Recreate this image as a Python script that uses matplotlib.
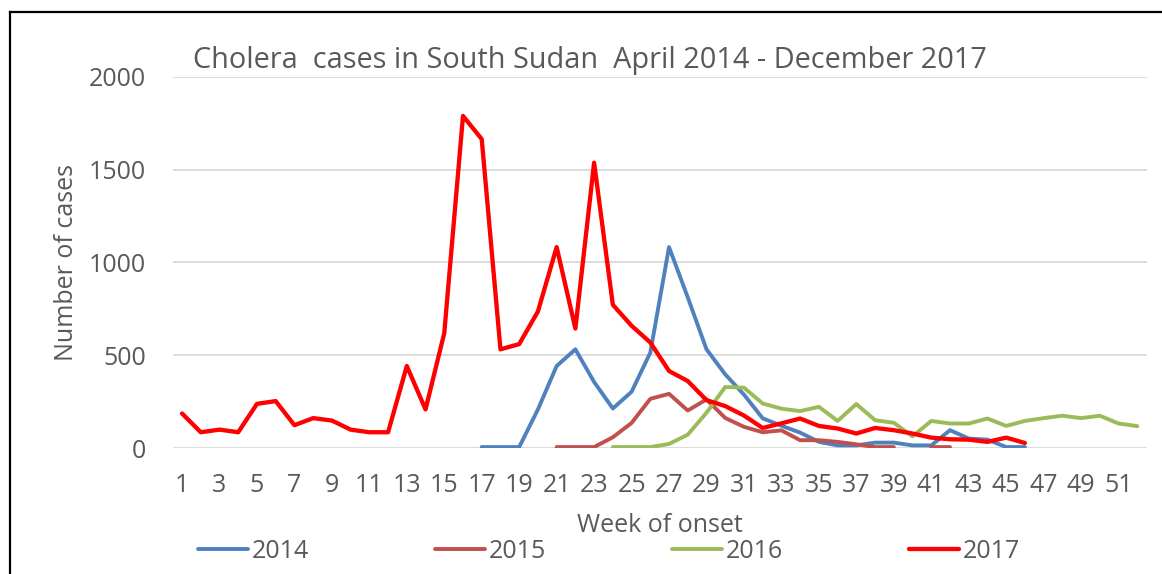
import numpy as np
import matplotlib
matplotlib.use("Agg")
import matplotlib.pyplot as plt
from matplotlib.lines import Line2D

weeks = np.arange(1, 53)
nan = np.nan

# weekly cases, week 1..52 (nan = no data)
cases_2014 = [nan] * 16 + [5, 5, 5, 208, 442, 532, 356, 213, 303, 514, 1083, 812, 532, 397,
                           288, 160, 120, 83, 33, 14, 14, 29, 29, 14, 14, 96, 51, 45, 5, 5] + [nan] * 6
cases_2015 = [nan] * 20 + [5, 5, 5, 58, 135, 265, 292, 202, 262, 162, 114, 85, 95, 42, 42,
                           33, 20, 5, 5, nan, 5, 5] + [nan] * 10
cases_2016 = [nan] * 23 + [5, 5, 5, 22, 72, 190, 329, 325, 240, 212, 199, 222, 146, 237, 150,
                           136, 63, 146, 132, 132, 159, 119, 146, 161, 174, 161, 174, 132, 118]
cases_2017 = [186, 85, 99, 85, 238, 253, 123, 161, 148, 99, 85, 85, 442, 208, 619, 1790, 1665,
              532, 560, 736, 1083, 644, 1538, 772, 659, 569, 415, 361, 258, 226, 175, 108, 133,
              159, 119, 105, 78, 108, 96, 78, 56, 47, 45, 33, 56, 27] + [nan] * 6

series = [("2014", cases_2014, "#4F81BD", 2.8),
          ("2015", cases_2015, "#C0504D", 2.8),
          ("2016", cases_2016, "#9BBB59", 2.8),
          ("2017", cases_2017, "#FF0000", 3.1)]

txt = "#595959"
plt.rcParams['font.family'] = ['Open Sans', 'DejaVu Sans']

fig = plt.figure(figsize=(11.62, 5.74), dpi=100)
ax = fig.add_axes([0.1486, 0.2195, 0.8382, 0.6464])

for name, vals, col, lw in series:
    ax.plot(weeks, np.array(vals, dtype=float), color=col, linewidth=lw,
            label=name, solid_capstyle='round', solid_joinstyle='round')

ax.set_xlim(0.5, 52.5)
ax.set_ylim(0, 2000)
ax.set_yticks(range(0, 2001, 500))
ax.set_xticks(range(1, 53, 2))
ax.grid(axis='y', color='#d9d9d9', linewidth=1.3)
ax.set_axisbelow(True)
for s in ax.spines.values():
    s.set_visible(False)
ax.tick_params(length=0, labelsize=18, labelcolor=txt)
ax.tick_params(axis='y', pad=19)
ax.tick_params(axis='x', pad=18)

ax.set_xlabel("Week of onset", fontsize=18, color=txt, labelpad=11)
ax.set_ylabel("Number of cases", fontsize=18, color=txt, labelpad=7)

fig.text(193 / 1162, 1 - 68 / 574, "Cholera  cases in South Sudan  April 2014 - December 2017",
         fontsize=20.8, color=txt, va='baseline', ha='left')

leg = fig.legend(loc='center', bbox_to_anchor=(0.5245, 0.039), ncol=4, frameon=False,
                 fontsize=18, handlelength=2.0, handletextpad=0.15, columnspacing=5.04,
                 borderpad=0, labelcolor=txt)

# outer frame (left and top edges visible)
fig.add_artist(Line2D([9.5 / 1162, 9.5 / 1162], [0, 1 - 11.5 / 574], color='black',
                      linewidth=1.6, transform=fig.transFigure))
fig.add_artist(Line2D([9.5 / 1162, 1], [1 - 11.5 / 574, 1 - 11.5 / 574], color='black',
                      linewidth=1.6, transform=fig.transFigure))

fig.savefig("out.png", dpi=100)
